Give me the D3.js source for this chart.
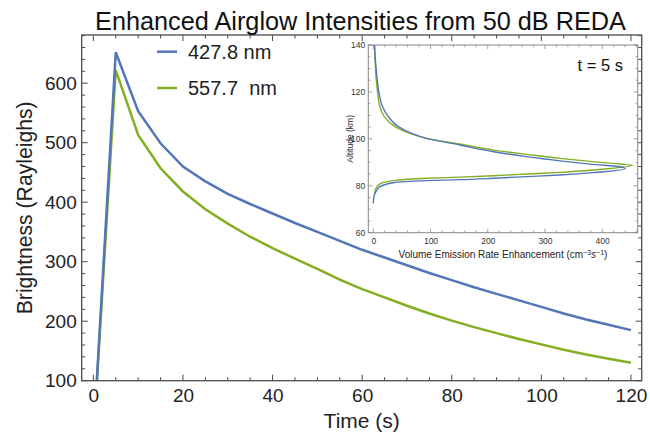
<!DOCTYPE html>
<html><head><meta charset="utf-8">
<script src="https://cdn.jsdelivr.net/npm/d3@7"></script>
<style>
html,body{margin:0;padding:0;background:#fff;}
svg{display:block;font-family:"Liberation Sans",Arial,sans-serif;}
</style></head>
<body>
<svg id="chart" width="650" height="442"></svg>
<script>
// ---- Data ----
const time = [0,5,10,15,20,25,30,35,40,45,50,55,60,65,70,75,80,85,90,95,100,105,110,115,120];
const blue4278 = [0,652,553,499,460,435,414,397,381,365,350,335,320,307,294,281,269,257,246,235,224,213,203,194,185];
const green5577 = [0,622,513,457,418,388,364,342,323,305,288,270,254,240,226,213,201,190,180,170,161,152,144,137,130];
const seriesNames = ["427.8 nm", "557.7  nm"];
const xTicks = [0,20,40,60,80,100,120];
const yTicks = [100,200,300,400,500,600];

// inset profile at t = 5 s (altitude km, VER cm^-3 s^-1)
const blueAlt = [140,132.2,125.1,119.7,113.7,109.5,105.2,102.3,100.2,97.4,94.5,92.4,90.6,89.1,88.1,87.3,85.6,84.6,83.9,83.2,82.6,82.2,81.3,79.6,77.5,75.4,72.5];
const blueVer = [2.3,4.1,7.0,9.9,16.3,26.2,43.7,67,93,151,210,268,326,384,431,440,384,326,268,210,151,93,35,11.6,4.7,1.2,0];
const greenAlt = [140,132.2,125.1,119.7,113.7,109.5,105.2,102.3,100.2,97.8,95.2,93.4,91.7,90.3,89.3,88.7,86.7,85.7,85.0,84.3,83.7,83.2,82.2,80.8,78.9,76.8];
const greenVer = [1.7,3.5,5.2,7.6,11.6,19.2,37.8,64,93,151,210,268,326,384,431,453,384,326,268,210,151,93,35,11.6,4.7,2.3];
const insetXTicks = [0,100,200,300,400];
const insetYTicks = [60,80,100,120,140];

const BLUE = "#5276b8", GREEN = "#84ae22";
const svg = d3.select("#chart");

function fitWidth(sel, target){
  const n = sel.node();
  const w = n.getComputedTextLength();
  const fs = parseFloat(sel.attr("font-size"));
  if (w > 0) sel.attr("font-size", (fs*target/w).toFixed(2));
}

// ---- Main plot ----
const L = 81.7, R = 641.7, T = 35, B = 380.7;
const x = d3.scaleLinear().domain([-2.6, 122.4]).range([L, R]);
const y = d3.scaleLinear().domain([100, 681]).range([B, T]);

svg.append("defs").append("clipPath").attr("id","clipMain")
  .append("rect").attr("x",L).attr("y",T).attr("width",R-L).attr("height",B-T);

const line = d3.line().x(d=>x(d[0])).y(d=>y(d[1]));
const gLines = svg.append("g").attr("clip-path","url(#clipMain)");
gLines.append("path").datum(time.map((t,i)=>[t,green5577[i]]))
  .attr("d",line).attr("fill","none").attr("stroke",GREEN).attr("stroke-width",2.5);
gLines.append("path").datum(time.map((t,i)=>[t,blue4278[i]]))
  .attr("d",line).attr("fill","none").attr("stroke",BLUE).attr("stroke-width",2.5);

// frame
svg.append("rect").attr("x",L).attr("y",T).attr("width",R-L).attr("height",B-T)
  .attr("fill","none").attr("stroke","#4a4a4a").attr("stroke-width",1.3);

const frameCol = "#4a4a4a";
const gT = svg.append("g").attr("stroke",frameCol).attr("stroke-width",1);
d3.range(0,121,5).forEach(v=>{
  const len = (v%20===0)?6:3.5;
  gT.append("line").attr("x1",x(v)).attr("x2",x(v)).attr("y1",B).attr("y2",B-len);
  gT.append("line").attr("x1",x(v)).attr("x2",x(v)).attr("y1",T).attr("y2",T+len);
});
d3.range(100,681,20).forEach(v=>{
  const len = (v%100===0)?6:3.5;
  gT.append("line").attr("y1",y(v)).attr("y2",y(v)).attr("x1",L).attr("x2",L+len);
  gT.append("line").attr("y1",y(v)).attr("y2",y(v)).attr("x1",R).attr("x2",R-len);
});
const xAxis = svg.append("g").attr("transform",`translate(0,${B})`)
  .call(d3.axisBottom(x).tickValues(xTicks).tickSize(0).tickPadding(8));
xAxis.select(".domain").remove();
xAxis.selectAll("text").attr("font-size",19).attr("fill","#222").attr("font-family","Liberation Sans, Arial, sans-serif");
const yAxis = svg.append("g").attr("transform",`translate(${L},0)`)
  .call(d3.axisLeft(y).tickValues(yTicks).tickSize(0).tickPadding(5));
yAxis.select(".domain").remove();
yAxis.selectAll("text").attr("font-size",19).attr("fill","#222").attr("font-family","Liberation Sans, Arial, sans-serif");

// titles
const title = svg.append("text").attr("x",360.5).attr("y",30).attr("text-anchor","middle")
  .attr("font-size",24).attr("fill","#111").text("Enhanced Airglow Intensities from 50 dB REDA");
fitWidth(title, 531);
svg.append("text").attr("x",(L+R)/2).attr("y",428).attr("text-anchor","middle")
  .attr("font-size",21).attr("fill","#222").text("Time (s)");
const ylab = svg.append("text").attr("transform",`translate(32,${(T+B)/2}) rotate(-90)`).attr("text-anchor","middle")
  .attr("font-size",21).attr("fill","#222").text("Brightness (Rayleighs)");
fitWidth(ylab, 213);

// legend
const legend = [[seriesNames[0],BLUE,51.7],[seriesNames[1],GREEN,88]];
legend.forEach(([name,col,ly])=>{
  svg.append("line").attr("x1",157).attr("x2",177).attr("y1",ly).attr("y2",ly)
    .attr("stroke",col).attr("stroke-width",2.5);
  svg.append("text").attr("x",188).attr("y",ly+7).attr("font-size",20).attr("fill","#222")
    .attr("xml:space","preserve").style("white-space","pre").text(name);
});

// ---- Inset ----
const iL = 368.3, iR = 637.7, iT = 45, iB = 232.7;
const xi = d3.scaleLinear().domain([-8.7, 462]).range([iL, iR]);
const yi = d3.scaleLinear().domain([60, 140]).range([iB, iT]);
svg.append("rect").attr("x",iL).attr("y",iT).attr("width",iR-iL).attr("height",iB-iT)
  .attr("fill","#fff").attr("stroke","#888").attr("stroke-width",1);
svg.append("defs").append("clipPath").attr("id","clipIn")
  .append("rect").attr("x",iL).attr("y",iT).attr("width",iR-iL).attr("height",iB-iT);
const pline = d3.line().x(d=>xi(d[1])).y(d=>yi(d[0])).curve(d3.curveMonotoneY);
const gIn = svg.append("g").attr("clip-path","url(#clipIn)");
gIn.append("path").datum(greenAlt.map((a,i)=>[a,greenVer[i]])).attr("d",pline)
  .attr("fill","none").attr("stroke",GREEN).attr("stroke-width",1.4);
gIn.append("path").datum(blueAlt.map((a,i)=>[a,blueVer[i]])).attr("d",pline)
  .attr("fill","none").attr("stroke",BLUE).attr("stroke-width",1.4);

const gIT = svg.append("g").attr("stroke","#888").attr("stroke-width",0.8);
d3.range(0,461,20).forEach(v=>{
  const len = (v%100===0)?4:2.2;
  gIT.append("line").attr("x1",xi(v)).attr("x2",xi(v)).attr("y1",iB).attr("y2",iB-len);
  gIT.append("line").attr("x1",xi(v)).attr("x2",xi(v)).attr("y1",iT).attr("y2",iT+len);
});
d3.range(60,141,5).forEach(v=>{
  const len = (v%20===0)?4:2.2;
  gIT.append("line").attr("y1",yi(v)).attr("y2",yi(v)).attr("x1",iL).attr("x2",iL+len);
  gIT.append("line").attr("y1",yi(v)).attr("y2",yi(v)).attr("x1",iR).attr("x2",iR-len);
});
const xiAxis = svg.append("g").attr("transform",`translate(0,${iB})`)
  .call(d3.axisBottom(xi).tickValues(insetXTicks).tickSize(0).tickPadding(5));
xiAxis.select(".domain").remove();
xiAxis.selectAll("text").attr("font-size",8.5).attr("fill","#333").attr("font-family","Liberation Sans, Arial, sans-serif");
const yiAxis = svg.append("g").attr("transform",`translate(${iL},0)`)
  .call(d3.axisLeft(yi).tickValues(insetYTicks).tickSize(0).tickPadding(3));
yiAxis.select(".domain").remove();
yiAxis.selectAll("text").attr("font-size",8.5).attr("fill","#333").attr("font-family","Liberation Sans, Arial, sans-serif");

const xt = svg.append("text").attr("x",503).attr("y",258).attr("text-anchor","middle")
  .attr("font-size",10).attr("fill","#222");
xt.append("tspan").text("Volume Emission Rate Enhancement (cm");
xt.append("tspan").attr("dy",-3.5).attr("font-size",7).text("−3");
xt.append("tspan").attr("dy",3.5).attr("font-style","italic").text("s");
xt.append("tspan").attr("dy",-3.5).attr("font-size",7).text("−1");
xt.append("tspan").attr("dy",3.5).text(")");
svg.append("text").attr("transform",`translate(353,${(iT+iB)/2}) rotate(-90)`).attr("text-anchor","middle")
  .attr("font-size",8.5).attr("fill","#222").text("Altitude (km)");
svg.append("text").attr("x",623).attr("y",71).attr("text-anchor","end")
  .attr("font-size",16.5).attr("fill","#111").text("t = 5 s");
</script>
</body></html>
